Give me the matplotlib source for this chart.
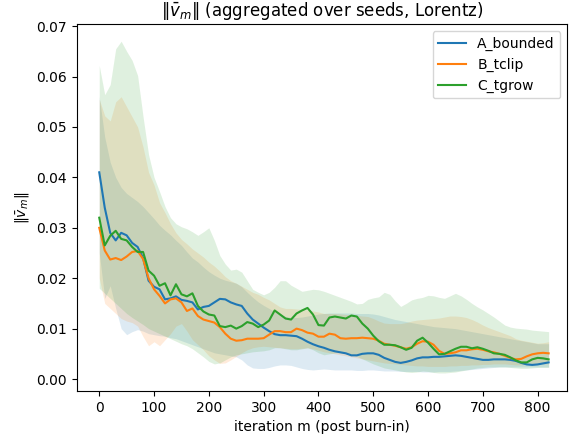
import numpy as np
import matplotlib
matplotlib.use("Agg")
import matplotlib.pyplot as plt

# iteration index (post burn-in), sampled every 10 steps
iterations = np.arange(0, 821, 10)

# mean ||v_m|| across seeds
a_bounded_mean = [
    0.0410, 0.0340, 0.0290, 0.0275, 0.0290, 0.0285, 0.0270, 0.0262, 0.0240, 0.0195,
    0.0183, 0.0178, 0.0158, 0.0160, 0.0164, 0.0157, 0.0155, 0.0152, 0.0138, 0.0143,
    0.0145, 0.0152, 0.0159, 0.0158, 0.0152, 0.0148, 0.0145, 0.0130, 0.0118, 0.0110,
    0.0102, 0.0095, 0.0089, 0.0087, 0.0087, 0.0086, 0.0085, 0.0080, 0.0074, 0.0069,
    0.0065, 0.0062, 0.0058, 0.0055, 0.0053, 0.0051, 0.0047, 0.0047, 0.0050, 0.0051,
    0.0051, 0.0048, 0.0042, 0.0038, 0.0034, 0.0032, 0.0034, 0.0037, 0.0041, 0.0043,
    0.0043, 0.0044, 0.0044, 0.0045, 0.0046, 0.0047, 0.0046, 0.0044, 0.0042, 0.0040,
    0.0038, 0.0038, 0.0039, 0.0039, 0.0039, 0.0038, 0.0036, 0.0032, 0.0029, 0.0028,
    0.0029, 0.0031, 0.0033,
]
b_tclip_mean = [
    0.0300, 0.0255, 0.0237, 0.0240, 0.0236, 0.0243, 0.0252, 0.0254, 0.0238, 0.0200,
    0.0178, 0.0165, 0.0150, 0.0158, 0.0160, 0.0152, 0.0135, 0.0140, 0.0125, 0.0118,
    0.0115, 0.0112, 0.0103, 0.0090, 0.0080, 0.0076, 0.0077, 0.0080, 0.0080, 0.0080,
    0.0081, 0.0088, 0.0095, 0.0095, 0.0093, 0.0093, 0.0100, 0.0097, 0.0092, 0.0090,
    0.0084, 0.0084, 0.0090, 0.0088, 0.0081, 0.0080, 0.0081, 0.0081, 0.0082, 0.0081,
    0.0080, 0.0076, 0.0070, 0.0068, 0.0066, 0.0063, 0.0060, 0.0063, 0.0070, 0.0075,
    0.0074, 0.0068, 0.0056, 0.0050, 0.0051, 0.0053, 0.0057, 0.0057, 0.0059, 0.0060,
    0.0058, 0.0055, 0.0053, 0.0050, 0.0046, 0.0042, 0.0039, 0.0040, 0.0045, 0.0049,
    0.0051, 0.0052, 0.0051,
]
c_tgrow_mean = [
    0.0320, 0.0265, 0.0284, 0.0294, 0.0278, 0.0275, 0.0262, 0.0252, 0.0252, 0.0215,
    0.0205, 0.0185, 0.0190, 0.0166, 0.0188, 0.0168, 0.0164, 0.0170, 0.0145, 0.0134,
    0.0128, 0.0126, 0.0105, 0.0103, 0.0106, 0.0100, 0.0105, 0.0113, 0.0110, 0.0103,
    0.0108, 0.0116, 0.0136, 0.0128, 0.0120, 0.0118, 0.0130, 0.0136, 0.0141, 0.0128,
    0.0107, 0.0106, 0.0122, 0.0124, 0.0122, 0.0120, 0.0126, 0.0124, 0.0110, 0.0100,
    0.0086, 0.0075, 0.0068, 0.0068, 0.0067, 0.0063, 0.0058, 0.0062, 0.0076, 0.0082,
    0.0072, 0.0060, 0.0049, 0.0050, 0.0055, 0.0060, 0.0064, 0.0064, 0.0061, 0.0063,
    0.0060, 0.0056, 0.0051, 0.0050, 0.0048, 0.0043, 0.0037, 0.0033, 0.0033, 0.0039,
    0.0042, 0.0041, 0.0039,
]

# spread across seeds (lower / upper envelope)
a_bounded_lo = [
    0.0250, 0.0160, 0.0185, 0.0140, 0.0100, 0.0088, 0.0094, 0.0098, 0.0095, 0.0090,
    0.0088, 0.0086, 0.0085, 0.0082, 0.0080, 0.0076, 0.0072, 0.0068, 0.0064, 0.0060,
    0.0056, 0.0052, 0.0050, 0.0048, 0.0046, 0.0044, 0.0038, 0.0028, 0.0022, 0.0021,
    0.0021, 0.0023, 0.0026, 0.0028, 0.0028, 0.0027, 0.0024, 0.0021, 0.0019, 0.0018,
    0.0019, 0.0020, 0.0019, 0.0018, 0.0018, 0.0018, 0.0018, 0.0017, 0.0017, 0.0018,
    0.0018, 0.0017, 0.0016, 0.0016, 0.0016, 0.0015, 0.0015, 0.0015, 0.0015, 0.0014,
    0.0014, 0.0014, 0.0015, 0.0015, 0.0015, 0.0016, 0.0017, 0.0018, 0.0019, 0.0020,
    0.0021, 0.0022, 0.0023, 0.0024, 0.0024, 0.0024, 0.0024, 0.0024, 0.0024, 0.0024,
    0.0024, 0.0024, 0.0024,
]
a_bounded_hi = [
    0.0560, 0.0480, 0.0430, 0.0400, 0.0380, 0.0368, 0.0360, 0.0352, 0.0342, 0.0330,
    0.0318, 0.0305, 0.0295, 0.0286, 0.0275, 0.0265, 0.0252, 0.0240, 0.0232, 0.0222,
    0.0213, 0.0206, 0.0200, 0.0196, 0.0193, 0.0190, 0.0183, 0.0172, 0.0162, 0.0153,
    0.0146, 0.0140, 0.0133, 0.0128, 0.0124, 0.0122, 0.0122, 0.0123, 0.0125, 0.0127,
    0.0129, 0.0130, 0.0131, 0.0131, 0.0131, 0.0131, 0.0131, 0.0130, 0.0130, 0.0130,
    0.0129, 0.0127, 0.0124, 0.0121, 0.0118, 0.0116, 0.0114, 0.0112, 0.0110, 0.0108,
    0.0106, 0.0104, 0.0103, 0.0102, 0.0101, 0.0100, 0.0098, 0.0096, 0.0094, 0.0092,
    0.0090, 0.0088, 0.0086, 0.0084, 0.0082, 0.0080, 0.0078, 0.0076, 0.0074, 0.0072,
    0.0070, 0.0070, 0.0070,
]
b_tclip_lo = [
    0.0200, 0.0150, 0.0140, 0.0130, 0.0120, 0.0115, 0.0112, 0.0105, 0.0084, 0.0066,
    0.0074, 0.0066, 0.0078, 0.0090, 0.0105, 0.0110, 0.0095, 0.0078, 0.0068, 0.0058,
    0.0046, 0.0038, 0.0031, 0.0032, 0.0038, 0.0045, 0.0052, 0.0058, 0.0062, 0.0064,
    0.0065, 0.0064, 0.0063, 0.0062, 0.0061, 0.0060, 0.0060, 0.0061, 0.0062, 0.0060,
    0.0057, 0.0054, 0.0052, 0.0050, 0.0048, 0.0046, 0.0044, 0.0042, 0.0040, 0.0038,
    0.0036, 0.0034, 0.0032, 0.0031, 0.0030, 0.0029, 0.0028, 0.0027, 0.0026, 0.0026,
    0.0025, 0.0025, 0.0025, 0.0025, 0.0026, 0.0026, 0.0027, 0.0027, 0.0028, 0.0028,
    0.0029, 0.0029, 0.0030, 0.0030, 0.0030, 0.0029, 0.0028, 0.0028, 0.0029, 0.0030,
    0.0030, 0.0030, 0.0030,
]
b_tclip_hi = [
    0.0555, 0.0522, 0.0512, 0.0550, 0.0560, 0.0540, 0.0520, 0.0500, 0.0460, 0.0410,
    0.0385, 0.0350, 0.0330, 0.0308, 0.0290, 0.0277, 0.0268, 0.0258, 0.0250, 0.0242,
    0.0232, 0.0224, 0.0214, 0.0203, 0.0195, 0.0190, 0.0184, 0.0178, 0.0172, 0.0168,
    0.0162, 0.0157, 0.0150, 0.0143, 0.0140, 0.0140, 0.0139, 0.0138, 0.0137, 0.0135,
    0.0133, 0.0130, 0.0130, 0.0130, 0.0129, 0.0128, 0.0127, 0.0126, 0.0125, 0.0124,
    0.0120, 0.0115, 0.0111, 0.0110, 0.0110, 0.0110, 0.0112, 0.0115, 0.0117, 0.0118,
    0.0119, 0.0120, 0.0121, 0.0123, 0.0125, 0.0125, 0.0124, 0.0122, 0.0118, 0.0113,
    0.0107, 0.0102, 0.0098, 0.0094, 0.0090, 0.0086, 0.0080, 0.0077, 0.0075, 0.0073,
    0.0071, 0.0072, 0.0074,
]
c_tgrow_lo = [
    0.0180, 0.0170, 0.0160, 0.0150, 0.0140, 0.0130, 0.0122, 0.0115, 0.0108, 0.0100,
    0.0095, 0.0090, 0.0085, 0.0080, 0.0075, 0.0070, 0.0066, 0.0060, 0.0052, 0.0044,
    0.0035, 0.0030, 0.0032, 0.0038, 0.0044, 0.0048, 0.0050, 0.0052, 0.0054, 0.0055,
    0.0056, 0.0058, 0.0062, 0.0062, 0.0060, 0.0058, 0.0058, 0.0060, 0.0062, 0.0058,
    0.0052, 0.0048, 0.0050, 0.0052, 0.0052, 0.0050, 0.0048, 0.0045, 0.0040, 0.0035,
    0.0030, 0.0026, 0.0022, 0.0020, 0.0018, 0.0016, 0.0014, 0.0013, 0.0014, 0.0016,
    0.0015, 0.0013, 0.0012, 0.0012, 0.0013, 0.0014, 0.0016, 0.0018, 0.0020, 0.0022,
    0.0023, 0.0024, 0.0024, 0.0024, 0.0024, 0.0023, 0.0022, 0.0021, 0.0021, 0.0022,
    0.0023, 0.0023, 0.0023,
]
c_tgrow_hi = [
    0.0622, 0.0564, 0.0584, 0.0655, 0.0670, 0.0650, 0.0632, 0.0602, 0.0520, 0.0445,
    0.0400, 0.0372, 0.0342, 0.0320, 0.0308, 0.0302, 0.0298, 0.0292, 0.0285, 0.0292,
    0.0300, 0.0275, 0.0245, 0.0228, 0.0216, 0.0218, 0.0212, 0.0195, 0.0178, 0.0172,
    0.0167, 0.0172, 0.0182, 0.0195, 0.0195, 0.0186, 0.0180, 0.0174, 0.0176, 0.0178,
    0.0177, 0.0174, 0.0170, 0.0166, 0.0162, 0.0158, 0.0154, 0.0149, 0.0150, 0.0158,
    0.0161, 0.0163, 0.0172, 0.0168, 0.0155, 0.0144, 0.0150, 0.0157, 0.0160, 0.0162,
    0.0166, 0.0165, 0.0162, 0.0160, 0.0165, 0.0170, 0.0165, 0.0158, 0.0150, 0.0143,
    0.0137, 0.0130, 0.0123, 0.0115, 0.0107, 0.0103, 0.0101, 0.0100, 0.0099, 0.0097,
    0.0096, 0.0095, 0.0094,
]

series = [
    ("A_bounded", a_bounded_mean, a_bounded_lo, a_bounded_hi, "tab:blue"),
    ("B_tclip", b_tclip_mean, b_tclip_lo, b_tclip_hi, "tab:orange"),
    ("C_tgrow", c_tgrow_mean, c_tgrow_lo, c_tgrow_hi, "tab:green"),
]

fig = plt.figure(figsize=(5.73, 4.38), dpi=100)
ax = fig.add_axes([0.134, 0.107, 0.856, 0.838])

for name, mean, lo, hi, color in series:
    ax.plot(iterations, mean, color=color, lw=1.5, label=name)
    ax.fill_between(iterations, lo, hi, color=color, alpha=0.15, lw=0)

ax.set_xlim(-41, 854)
ax.set_ylim(-0.0024, 0.0704)
ax.set_title(r"$\|\bar{v}_m\|$ (aggregated over seeds, Lorentz)")
ax.set_xlabel("iteration m (post burn-in)")
ax.set_ylabel(r"$\|\bar{v}_m\|$")
ax.legend(loc="upper right")

fig.savefig("out.png", dpi=100)
